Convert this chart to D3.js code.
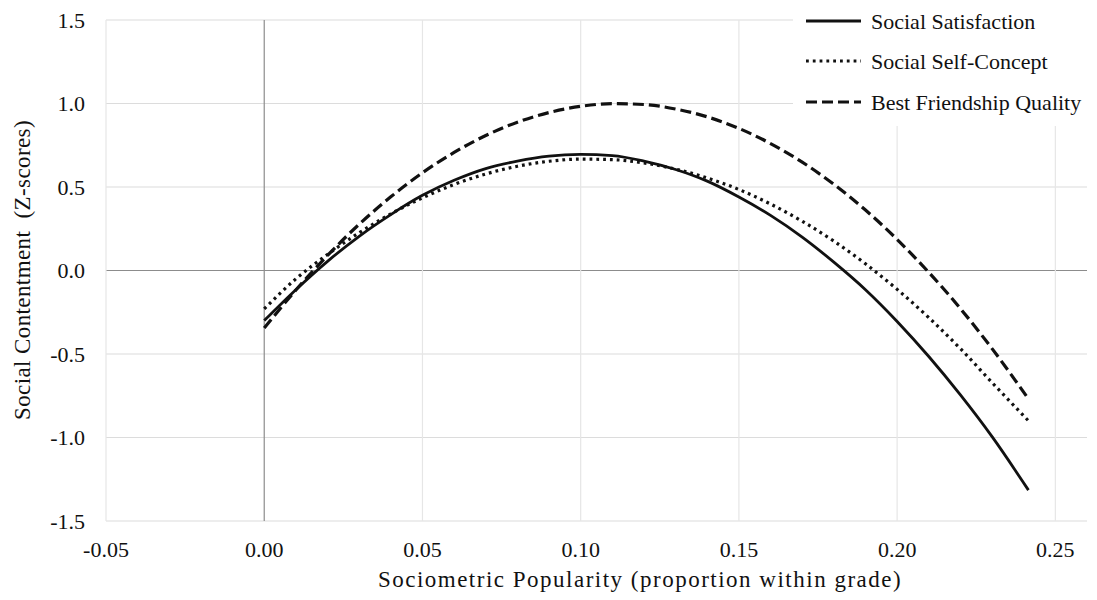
<!DOCTYPE html>
<html>
<head>
<meta charset="utf-8">
<script src="https://cdn.jsdelivr.net/npm/d3@7"></script>
<style>
  body { margin: 0; background: #fff; }
  text { font-family: "Liberation Serif", "Times New Roman", serif; fill: #111; }
</style>
</head>
<body>
<div id="chart"></div>
<script>
// values
var popularity = [0, 0.01, 0.02, 0.03, 0.04, 0.05, 0.06, 0.07, 0.08, 0.09, 0.10, 0.11, 0.12,
                  0.13, 0.14, 0.15, 0.16, 0.17, 0.18, 0.19, 0.20, 0.21, 0.22, 0.23, 0.2415];
var socialSatisfaction = [-0.30, -0.115, 0.055, 0.205, 0.335, 0.45, 0.54, 0.61, 0.655, 0.685, 0.695, 0.688,
                          0.655, 0.605, 0.535, 0.44, 0.33, 0.2, 0.05, -0.115, -0.305, -0.515, -0.745, -0.995, -1.315];
var socialSelfConcept = [-0.23, -0.05, 0.096, 0.226, 0.339, 0.435, 0.515, 0.578, 0.624, 0.654, 0.667, 0.664,
                         0.644, 0.607, 0.554, 0.485, 0.398, 0.295, 0.176, 0.04, -0.113, -0.282, -0.468, -0.671, -0.9];
var bestFriendship = [-0.345, -0.117, 0.09, 0.277, 0.441, 0.585, 0.707, 0.808, 0.888, 0.946, 0.983, 0.999,
                      0.994, 0.967, 0.92, 0.851, 0.76, 0.649, 0.516, 0.362, 0.186, -0.011, -0.228, -0.468, -0.769];
var seriesNames = ["Social Satisfaction", "Social Self-Concept", "Best Friendship Quality"];
var xTicks = [-0.05, 0, 0.05, 0.10, 0.15, 0.20, 0.25];
var xTickLabels = ["-0.05", "0.00", "0.05", "0.10", "0.15", "0.20", "0.25"];
var yTicks = [1.5, 1.0, 0.5, 0, -0.5, -1.0, -1.5];
var yTickLabels = ["1.5", "1.0", "0.5", "0.0", "-0.5", "-1.0", "-1.5"];

var width = 1097,
    height = 600;

var x = d3.scaleLinear().domain([-0.05, 0.26]).range([106, 1087]);
var y = d3.scaleLinear().domain([-1.5, 1.5]).range([521, 20]);

var svg = d3.select("#chart").append("svg")
    .attr("width", width)
    .attr("height", height);

// gridlines
svg.append("g").selectAll("line")
    .data(yTicks)
  .enter().append("line")
    .attr("x1", x(-0.05)).attr("x2", x(0.26))
    .attr("y1", function(d) { return y(d); })
    .attr("y2", function(d) { return y(d); })
    .attr("stroke", function(d) { return d === 0 ? "#8c8c8c" : "#dcdcdc"; })
    .attr("stroke-width", 1.2);

svg.append("g").selectAll("line")
    .data(xTicks)
  .enter().append("line")
    .attr("y1", y(1.5)).attr("y2", y(-1.5))
    .attr("x1", function(d) { return x(d); })
    .attr("x2", function(d) { return x(d); })
    .attr("stroke", function(d) { return d === 0 ? "#8c8c8c" : "#e6e6e6"; })
    .attr("stroke-width", 1.2);

// tick labels
svg.append("g").selectAll("text")
    .data(yTicks)
  .enter().append("text")
    .attr("x", 85)
    .attr("y", function(d) { return y(d); })
    .attr("dy", ".35em")
    .attr("text-anchor", "end")
    .attr("font-size", "22px")
    .text(function(d, i) { return yTickLabels[i]; });

svg.append("g").selectAll("text")
    .data(xTicks)
  .enter().append("text")
    .attr("x", function(d) { return x(d); })
    .attr("y", 557)
    .attr("text-anchor", "middle")
    .attr("font-size", "22px")
    .text(function(d, i) { return xTickLabels[i]; });

// axis titles
svg.append("text")
    .attr("x", 640)
    .attr("y", 587)
    .attr("text-anchor", "middle")
    .attr("font-size", "23px")
    .attr("letter-spacing", "1.5px")
    .text("Sociometric Popularity (proportion within grade)");

svg.append("text")
    .attr("transform", "translate(30,270) rotate(-90)")
    .attr("text-anchor", "middle")
    .attr("font-size", "23px")
    .attr("letter-spacing", "0.4px")
    .text("Social Contentment\u00a0\u00a0(Z-scores)");

// curves
var styles = [
  { dash: null, width: 2.8 },
  { dash: "2.8,4", width: 3.2 },
  { dash: "11,5", width: 3.2 }
];
var allSeries = [socialSatisfaction, socialSelfConcept, bestFriendship];

var line = d3.line()
    .x(function(d) { return x(d[0]); })
    .y(function(d) { return y(d[1]); })
    .curve(d3.curveMonotoneX);

svg.append("g").selectAll("path")
    .data(allSeries)
  .enter().append("path")
    .attr("d", function(vals) { return line(vals.map(function(v, i) { return [popularity[i], v]; })); })
    .attr("fill", "none")
    .attr("stroke", "#111")
    .attr("stroke-width", function(d, i) { return styles[i].width; })
    .attr("stroke-dasharray", function(d, i) { return styles[i].dash; });

// legend
var legend = svg.append("g");
legend.append("rect")
    .attr("x", 793).attr("y", 0)
    .attr("width", width - 793).attr("height", 126)
    .attr("fill", "#fff");

var rows = legend.selectAll("g.row")
    .data(seriesNames)
  .enter().append("g")
    .attr("class", "row")
    .attr("transform", function(d, i) { return "translate(0," + [21, 61, 102][i] + ")"; });

rows.append("line")
    .attr("x1", 806).attr("x2", 861)
    .attr("y1", 0).attr("y2", 0)
    .attr("stroke", "#111")
    .attr("stroke-width", function(d, i) { return styles[i].width; })
    .attr("stroke-dasharray", function(d, i) { return styles[i].dash; });

rows.append("text")
    .attr("x", 871)
    .attr("dy", ".35em")
    .attr("font-size", "22px")
    .text(function(d) { return d; });
</script>
</body>
</html>
